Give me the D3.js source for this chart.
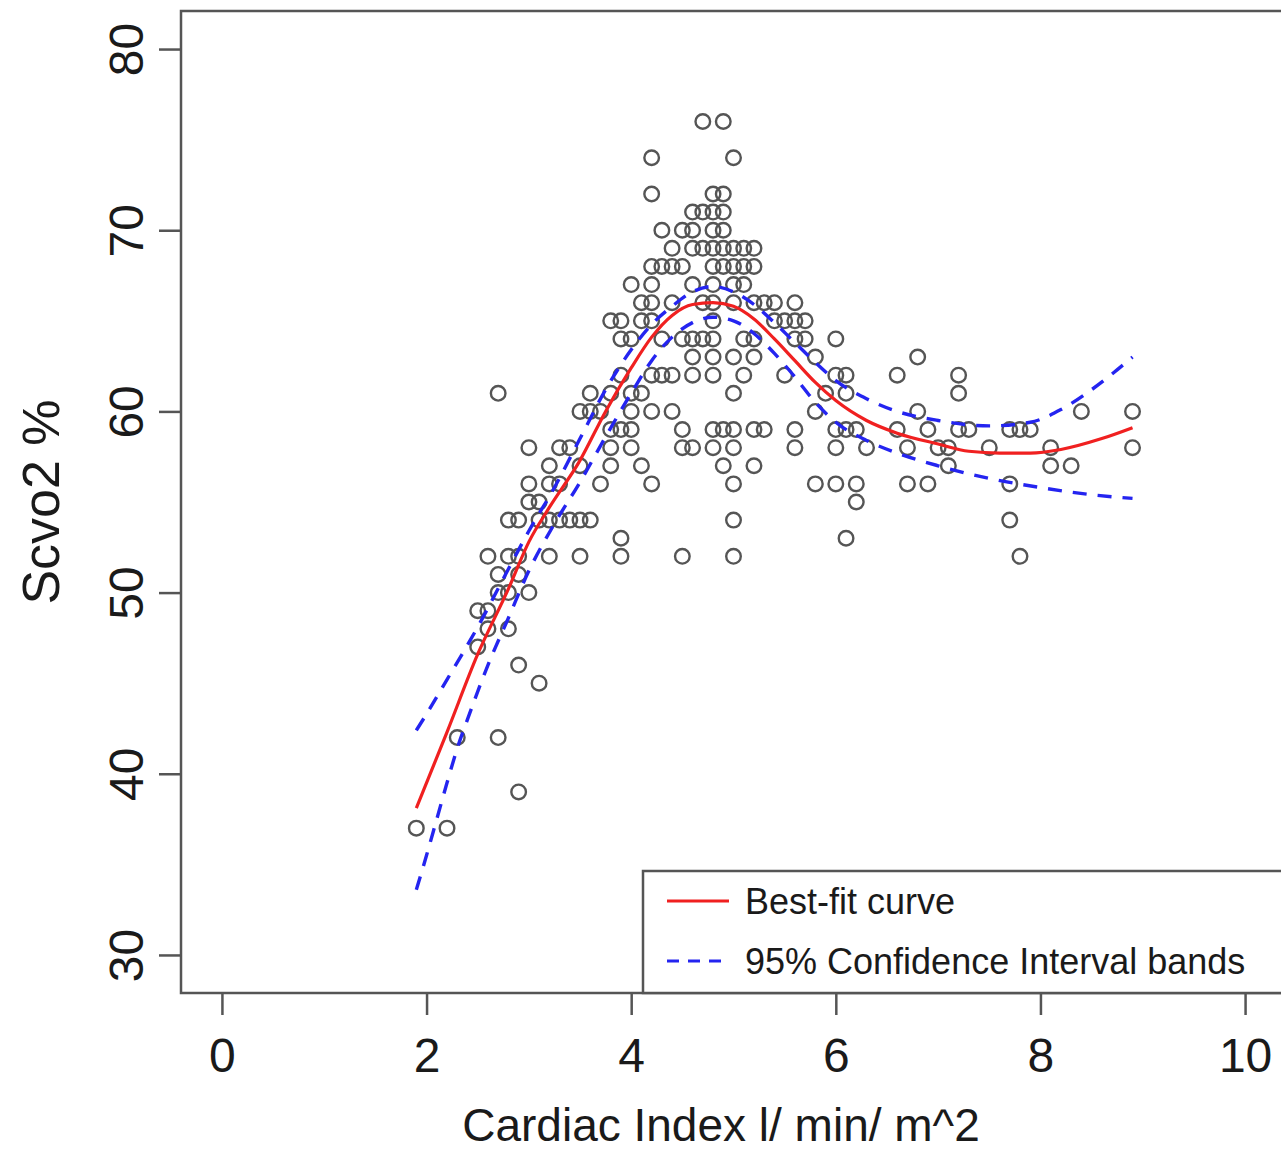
<!DOCTYPE html>
<html>
  <head>
    <meta charset="utf-8" />
    <script src="https://cdn.jsdelivr.net/npm/d3@7"></script>
    <style>
      body { margin: 0; background: #fff; }
      text { font-family: "Liberation Sans", Arial, sans-serif; fill: #1a1a1a; }
    </style>
  </head>
  <body>
    <div id="master"></div>

    <script type="text/javascript">
var width = 1281, height = 1154;

// observed points, grouped by Scvo2 value: [scvo2, [cardiac index, ...]]
var pointRows = [
  [76, [4.7, 4.9]],
  [74, [4.2, 5.0]],
  [72, [4.2, 4.8, 4.9]],
  [71, [4.6, 4.7, 4.8, 4.9]],
  [70, [4.3, 4.5, 4.6, 4.8, 4.9]],
  [69, [4.4, 4.6, 4.7, 4.8, 4.9, 5.0, 5.1, 5.2]],
  [68, [4.2, 4.3, 4.4, 4.5, 4.8, 4.9, 5.0, 5.1, 5.2]],
  [67, [4.0, 4.2, 4.6, 4.8, 5.0, 5.1]],
  [66, [4.1, 4.2, 4.4, 4.7, 4.8, 5.0, 5.2, 5.3, 5.4, 5.6]],
  [65, [3.8, 3.9, 4.1, 4.2, 4.8, 5.4, 5.5, 5.6, 5.7]],
  [64, [3.9, 4.0, 4.3, 4.5, 4.6, 4.7, 4.8, 5.1, 5.2, 5.6, 5.7, 6.0]],
  [63, [4.6, 4.8, 5.0, 5.2, 5.8, 6.8]],
  [62, [3.9, 4.2, 4.3, 4.4, 4.6, 4.8, 5.1, 5.5, 6.0, 6.1, 6.6, 7.2]],
  [61, [2.7, 3.6, 3.8, 4.0, 4.1, 5.0, 5.9, 6.1, 7.2]],
  [60, [3.5, 3.6, 3.7, 4.0, 4.2, 4.4, 5.8, 6.8, 8.4, 8.9]],
  [59, [3.8, 3.9, 4.0, 4.5, 4.8, 4.9, 5.0, 5.2, 5.3, 5.6, 6.0, 6.1, 6.2, 6.6, 6.9, 7.2, 7.3, 7.7, 7.8, 7.9]],
  [58, [3.0, 3.3, 3.4, 3.8, 4.0, 4.5, 4.6, 4.8, 5.0, 5.6, 6.0, 6.3, 6.7, 7.0, 7.1, 7.5, 8.1, 8.9]],
  [57, [3.2, 3.5, 3.8, 4.1, 4.9, 5.2, 7.1, 8.1, 8.3]],
  [56, [3.0, 3.2, 3.3, 3.7, 4.2, 5.0, 5.8, 6.0, 6.2, 6.7, 6.9, 7.7]],
  [55, [3.0, 3.1, 6.2]],
  [54, [2.8, 2.9, 3.1, 3.2, 3.3, 3.4, 3.5, 3.6, 5.0, 7.7]],
  [53, [3.9, 6.1]],
  [52, [2.6, 2.8, 2.9, 3.2, 3.5, 3.9, 4.5, 5.0, 7.8]],
  [51, [2.7, 2.9]],
  [50, [2.7, 2.8, 3.0]],
  [49, [2.5, 2.6]],
  [48, [2.6, 2.8]],
  [47, [2.5]],
  [46, [2.9]],
  [45, [3.1]],
  [42, [2.3, 2.7]],
  [39, [2.9]],
  [37, [1.9, 2.2]]
];

// best-fit curve
var fitX = [1.9, 2.2, 2.5, 2.8, 3.0, 3.2, 3.5, 3.75, 4.0, 4.2, 4.4, 4.6, 4.8, 5.0, 5.2, 5.4, 5.6, 5.8, 6.0, 6.3, 6.6, 7.0, 7.3, 7.6, 7.9, 8.2, 8.6, 8.9];
var fitY = [38.1, 42.3, 46.6, 50.2, 52.8, 54.7, 57.3, 60.0, 62.4, 64.1, 65.3, 65.9, 66.0, 65.8, 65.1, 64.0, 62.8, 61.6, 60.6, 59.5, 58.8, 58.2, 57.8, 57.7, 57.7, 57.9, 58.5, 59.1];

// 95% confidence bands
var upperX = [1.9, 2.0, 2.2, 2.5, 2.8, 3.0, 3.25, 3.5, 3.75, 4.0, 4.2, 4.4, 4.6, 4.8, 5.0, 5.2, 5.4, 5.6, 5.8, 6.0, 6.3, 6.6, 7.0, 7.5, 7.9, 8.2, 8.5, 8.9];
var upperY = [42.4, 43.3, 45.2, 48.1, 51.3, 53.4, 55.8, 58.5, 61.2, 63.4, 64.8, 65.8, 66.6, 66.9, 66.6, 65.9, 64.9, 63.8, 62.7, 61.7, 60.7, 60.0, 59.5, 59.2, 59.4, 60.1, 61.2, 63.0];
var lowerX = [1.9, 2.0, 2.1, 2.2, 2.3, 2.4, 2.6, 2.8, 3.0, 3.25, 3.5, 3.75, 4.0, 4.2, 4.4, 4.6, 4.8, 5.0, 5.2, 5.4, 5.6, 5.8, 6.0, 6.3, 6.6, 7.0, 7.5, 8.0, 8.5, 8.9];
var lowerY = [33.6, 35.5, 37.5, 39.5, 41.4, 43.0, 46.0, 48.6, 51.2, 53.8, 56.1, 58.6, 61.0, 62.8, 64.1, 64.9, 65.2, 65.0, 64.3, 63.2, 61.9, 60.5, 59.4, 58.4, 57.7, 57.0, 56.3, 55.8, 55.4, 55.2];

var xTicks = [0, 2, 4, 6, 8, 10];
var yTicks = [30, 40, 50, 60, 70, 80];
var legendLabels = ["Best-fit curve", "95% Confidence Interval bands"];

var plotLeft = 181, plotRight = 1286, plotTop = 11, plotBottom = 993;

var x = d3.scaleLinear().domain([-0.4, 10.4]).range([plotLeft, plotRight]);
var y = d3.scaleLinear().domain([27.9, 82.1]).range([plotBottom, plotTop]);

var svg = d3.select("#master").append("svg")
  .attr("width", width)
  .attr("height", height);

var axisColor = "#555";

// frame
svg.append("rect")
  .attr("x", plotLeft).attr("y", plotTop)
  .attr("width", plotRight - plotLeft).attr("height", plotBottom - plotTop)
  .attr("fill", "none").attr("stroke", axisColor).attr("stroke-width", 2.5);

// axes
var xAxis = svg.append("g")
  .attr("transform", "translate(0," + plotBottom + ")")
  .call(d3.axisBottom(x).tickValues(xTicks).tickSize(22));
var yAxis = svg.append("g")
  .attr("transform", "translate(" + plotLeft + ",0)")
  .call(d3.axisLeft(y).tickValues(yTicks).tickSize(22));

[xAxis, yAxis].forEach(function(g) {
  g.select(".domain").remove();
  g.selectAll(".tick line").attr("stroke", axisColor).attr("stroke-width", 2.5);
  g.selectAll(".tick text").attr("font-size", 48).attr("fill", "#1a1a1a")
    .style("font-family", "'Liberation Sans', Arial, sans-serif");
});

xAxis.selectAll(".tick text")
  .attr("y", 79).attr("dy", null);

yAxis.selectAll(".tick text")
  .attr("x", null).attr("dy", null)
  .attr("text-anchor", "middle")
  .attr("transform", "translate(-38,0) rotate(-90)");

// axis titles
svg.append("text")
  .attr("x", 721).attr("y", 1141)
  .attr("text-anchor", "middle")
  .attr("font-size", 46)
  .text("Cardiac Index l/ min/ m^2");

svg.append("text")
  .attr("transform", "translate(59," + ((plotTop + plotBottom) / 2) + ") rotate(-90)")
  .attr("text-anchor", "middle")
  .attr("font-size", 52)
  .text("Scvo2 %");

// points
var points = [];
pointRows.forEach(function(row) {
  row[1].forEach(function(ci) { points.push({ci: ci, s: row[0]}); });
});

svg.append("g").selectAll("circle")
  .data(points)
  .enter()
  .append("circle")
    .attr("cx", function(d) { return x(d.ci); })
    .attr("cy", function(d) { return y(d.s); })
    .attr("r", 7.3)
    .attr("fill", "none")
    .attr("stroke", "#555")
    .attr("stroke-width", 2.4);

var line = d3.line()
  .x(function(d) { return x(d[0]); })
  .y(function(d) { return y(d[1]); })
  .curve(d3.curveMonotoneX);

function pairs(xs, ys) { return xs.map(function(v, i) { return [v, ys[i]]; }); }

var blue = "#2424f0", red = "#f02020";

[pairs(upperX, upperY), pairs(lowerX, lowerY)].forEach(function(band) {
  svg.append("path")
    .datum(band)
    .attr("d", line)
    .attr("fill", "none")
    .attr("stroke", blue)
    .attr("stroke-width", 3.4)
    .attr("stroke-dasharray", "14,11");
});

svg.append("path")
  .datum(pairs(fitX, fitY))
  .attr("d", line)
  .attr("fill", "none")
  .attr("stroke", red)
  .attr("stroke-width", 3.2);

// legend
var legend = svg.append("g");
legend.append("rect")
  .attr("x", 643).attr("y", 871)
  .attr("width", plotRight - 643).attr("height", plotBottom - 871)
  .attr("fill", "#fff").attr("stroke", axisColor).attr("stroke-width", 2.5);

var legendStyles = [{color: red, dash: null}, {color: blue, dash: "12,9"}];
legendLabels.forEach(function(label, i) {
  var ly = 901 + i * 60;
  legend.append("line")
    .attr("x1", 667).attr("x2", 729)
    .attr("y1", ly).attr("y2", ly)
    .attr("stroke", legendStyles[i].color)
    .attr("stroke-width", 3.2)
    .attr("stroke-dasharray", legendStyles[i].dash);
  legend.append("text")
    .attr("x", 745).attr("y", ly + 13)
    .attr("font-size", 36)
    .text(label);
});
    </script>
  </body>
</html>
